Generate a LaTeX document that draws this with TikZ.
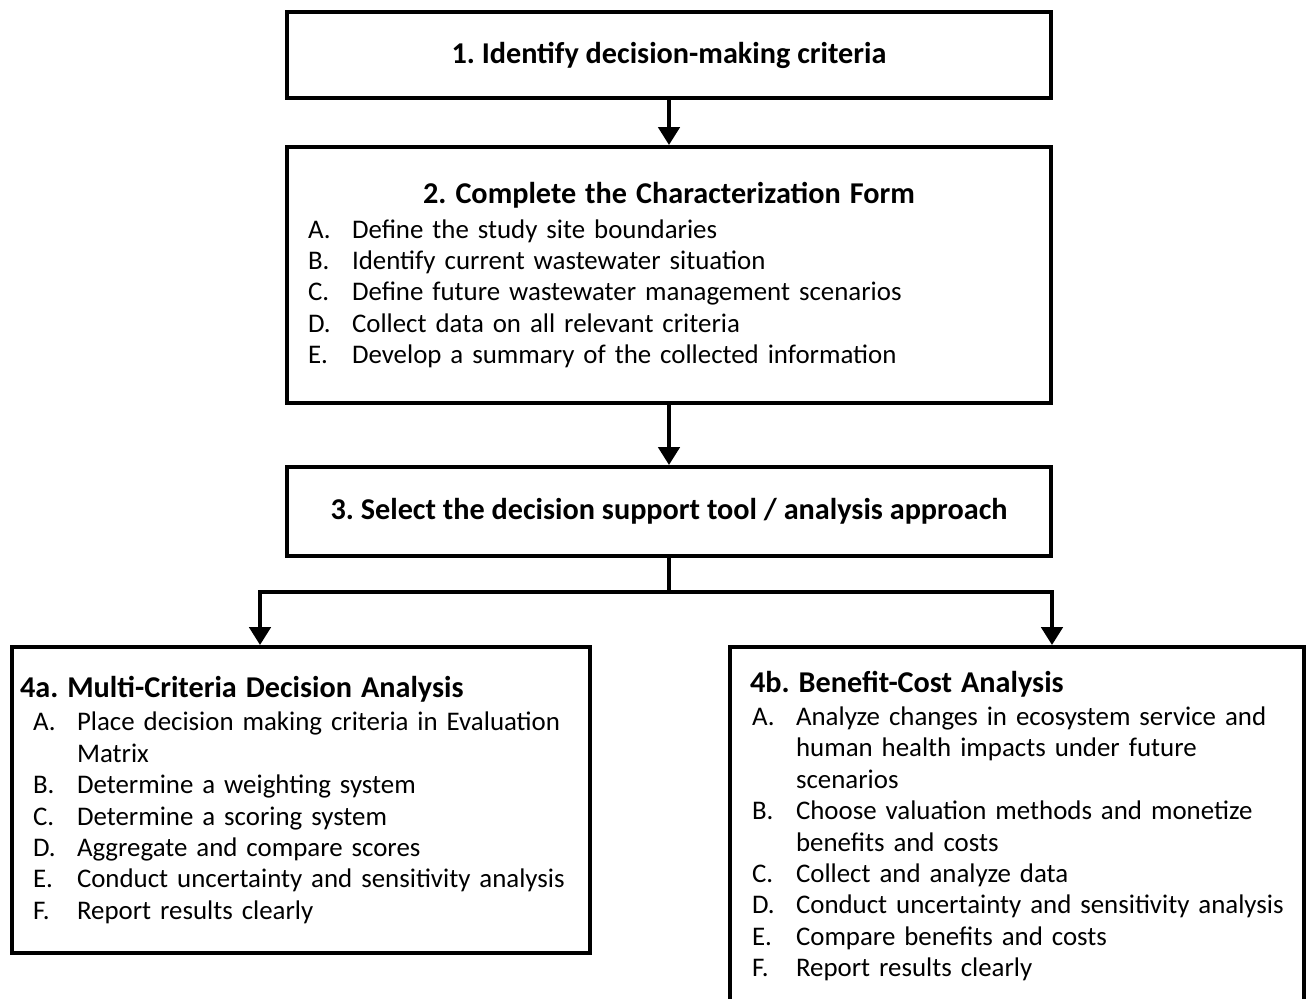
\documentclass[tikz,border=0pt]{standalone}
\usepackage{fontspec}
\setmainfont{Carlito}
\usetikzlibrary{arrows.meta,positioning}

\newcommand{\ttl}[1]{\mbox{\fontsize{17.2}{17.9}\selectfont\bfseries #1}}
\newcommand{\itm}[2]{\makebox[0.88cm][l]{#1}\mbox{#2}}
\newcommand{\cont}[1]{\hspace*{0.88cm}\mbox{#1}}

\begin{document}
\frenchspacing
\begin{tikzpicture}[
    x=0.02cm, y=-0.02cm,
    stepbox/.style={draw=black, line width=2.2pt, fill=white, inner sep=0pt, font=\fontsize{15.3}{17.9}\selectfont},
    listbox/.style={stepbox, align=left},
    arrow/.style={-{Triangle[width=0.42cm,length=0.36cm]}, line width=2.8pt},
    conn/.style={line width=2.8pt}
  ]
    \useasboundingbox (0,0) rectangle (1307,999);

    \node[stepbox, minimum width=15.28cm, minimum height=1.72cm] (criteria) at (669,55) {\ttl{1. Identify decision-making criteria}};
    \node[listbox, text width=14.44cm, inner xsep=0.42cm, minimum height=5.12cm] (form) at (669,275) {\makebox[14.44cm]{\ttl{2. Complete the Characterization Form}}\\[2pt]
      \itm{A.}{Define the study site boundaries}\\
      \itm{B.}{Identify current wastewater situation}\\
      \itm{C.}{Define future wastewater management scenarios}\\
      \itm{D.}{Collect data on all relevant criteria}\\
      \itm{E.}{Develop a summary of the collected information}};
    \node[stepbox, minimum width=15.28cm, minimum height=1.78cm] (tool) at (669,511.5) {\ttl{3. Select the decision support tool / analysis approach}};
    \node[listbox, text width=10.72cm, inner xsep=0.42cm, minimum height=6.12cm] (mcda) at (301,800) {\hspace*{-0.26cm}\ttl{4a. Multi-Criteria Decision Analysis}\\[1pt]
      \itm{A.}{Place decision making criteria in Evaluation}\\
      \cont{Matrix}\\
      \itm{B.}{Determine a weighting system}\\
      \itm{C.}{Determine a scoring system}\\
      \itm{D.}{Aggregate and compare scores}\\
      \itm{E.}{Conduct uncertainty and sensitivity analysis}\\
      \itm{F.}{Report results clearly}};
    \node[listbox, text width=10.6cm, inner xsep=0.44cm, minimum height=7.16cm] (bca) at (1017,826) {\hspace*{-0.04cm}\ttl{4b. Benefit-Cost Analysis}\\[1pt]
      \itm{A.}{Analyze changes in ecosystem service and}\\
      \cont{human health impacts under future}\\
      \cont{scenarios}\\
      \itm{B.}{Choose valuation methods and monetize}\\
      \cont{benefits and costs}\\
      \itm{C.}{Collect and analyze data}\\
      \itm{D.}{Conduct uncertainty and sensitivity analysis}\\
      \itm{E.}{Compare benefits and costs}\\
      \itm{F.}{Report results clearly}};

    \coordinate (split) at (669,592);

    \draw[arrow] (criteria.south) -- (form.north);
    \draw[arrow] (form.south) -- (tool.north);
    \draw[conn] (tool.south) -- (split);
    \draw[arrow] (split) -| ([xshift=-0.82cm]mcda.north);
    \draw[arrow] (split) -| ([xshift=0.7cm]bca.north);
  \end{tikzpicture}
\end{document}
